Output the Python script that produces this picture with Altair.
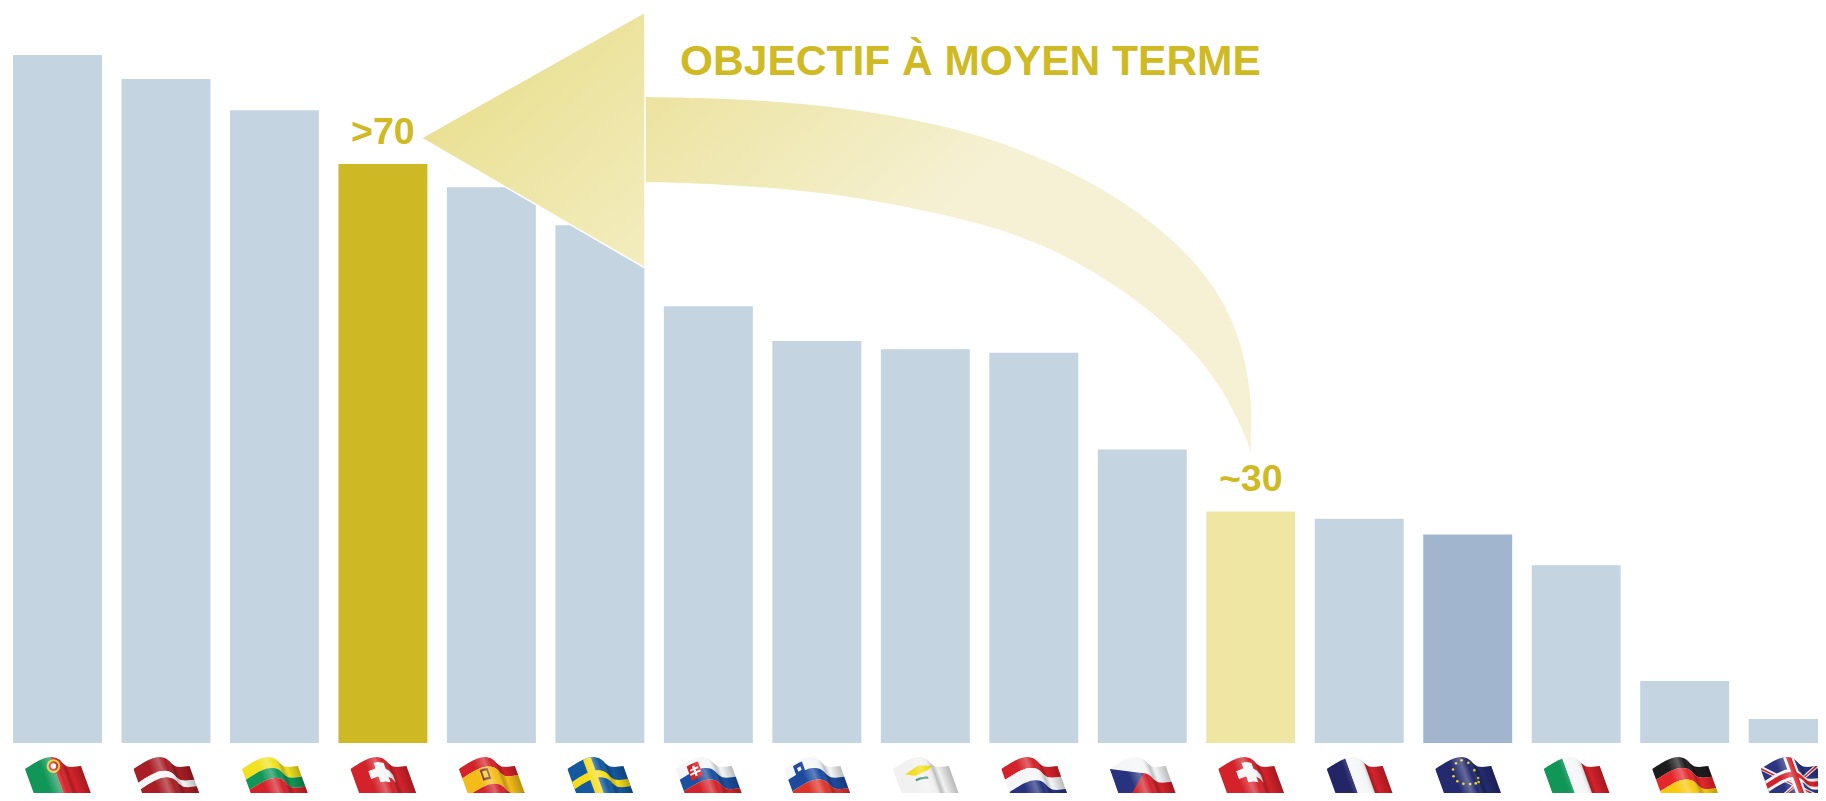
import base64
import numpy as np
import pandas as pd
import altair as alt

# ---------- values ----------
countries = ["Portugal", "Lettonie", "Lituanie", "Suisse (objectif)", "Espagne", "Suède", "Slovaquie",
             "Slovénie", "Chypre", "Pays-Bas", "Tchéquie", "Suisse", "France", "UE", "Italie",
             "Allemagne", "Royaume-Uni"]
values = [83.2, 80.3, 76.5, 70.0, 67.2, 62.6, 52.8, 48.6, 47.6, 47.2, 35.5, 28.0, 27.1, 25.2, 21.5, 7.5, 2.9]
groups = ["pays", "pays", "pays", "objectif", "pays", "pays", "pays", "pays", "pays", "pays", "pays",
          "actuel", "pays", "ue", "pays", "pays", "pays"]
flag_codes = ["pt", "lv", "lt", "ch", "es", "se", "sk", "si", "cy", "nl", "cz", "ch", "fr", "eu", "it", "de", "uk"]
group_names = ["pays", "objectif", "actuel", "ue"]
group_colors = ["#C5D4E1", "#CDB924", "#EFE6A4", "#A1B6CE"]

label_countries = ["Suisse (objectif)", "Suisse"]
label_values = [70.0, 28.0]
label_texts = [">70", "~30"]
headline = ["OBJECTIF À MOYEN TERME"]
headline_x = [680]
headline_y = [75]

# arrow outline, in the picture's own pixel coordinates
head_x = [421, 645]
head_top = [138, 12]
head_bottom = [138, 268]
shaft_x = [645, 720, 800, 880, 950, 1000, 1050, 1100, 1150, 1190, 1217, 1237, 1248, 1251]
shaft_top = [97, 98, 103, 113, 127, 142, 162, 187, 220, 256, 290, 330, 373, 405]
shaft_bottom = [182, 184, 190, 201, 216, 229, 248, 275, 310, 347, 381, 417, 443, 452]

# ---------- waving-flag icons ----------
CURVE_X = [0, 7, 14, 20, 26, 31, 35, 38, 42, 47, 56]
CURVE_Y = [12, 7.5, 3.5, 1, 0, .8, 3, 6.5, 9.5, 10, 9]


def warp(u, v):
    x = 56 * u
    return x + 13 * v, float(np.interp(x, CURVE_X, CURVE_Y)) + 36 * v


def poly(points, color):
    pts = " ".join("%.2f,%.2f" % warp(u, v) for u, v in points)
    return f'<polygon points="{pts}" fill="{color}"/>'


def rect(u0, u1, v0, v1, color):
    us = np.linspace(u0, u1, 26)
    pts = [(u, v0) for u in us] + [(u, v1) for u in us[::-1]]
    return poly(pts, color)


def dot(u, v, r, color):
    x, y = warp(u, v)
    return f'<circle cx="{x:.2f}" cy="{y:.2f}" r="{r}" fill="{color}"/>'


def hbands(colors, cuts=None):
    cuts = cuts or list(np.linspace(0, 1, len(colors) + 1))
    return "".join(rect(0, 1, cuts[i], cuts[i + 1], c) for i, c in enumerate(colors))


def vbands(colors):
    cuts = np.linspace(0, 1, len(colors) + 1)
    return "".join(rect(cuts[i], cuts[i + 1], 0, 1, c) for i, c in enumerate(colors))


RED, GREEN, NAVY = "#D4222A", "#109657", "#232566"
WHITE = "#F4F5F6"


def painter(code):
    if code == "pt":
        return (rect(0, .45, 0, 1, GREEN) + rect(.45, 1, 0, 1, RED) + dot(.45, .25, 6.8, "#E9D21F")
                + dot(.45, .25, 4.8, "#C8232A") + dot(.45, .25, 2.8, WHITE))
    if code == "lv":
        return hbands(["#A81E26", WHITE, "#A81E26"], [0, .38, .56, 1])
    if code == "lt":
        return hbands(["#F0E21F", GREEN, RED], [0, .3, .58, 1])
    if code == "ch":
        return (rect(0, 1, 0, 1, RED) + rect(.38, .56, .14, .68, WHITE) + rect(.25, .69, .30, .52, WHITE))
    if code == "es":
        return (hbands([RED, "#F4BC18", RED], [0, .26, .74, 1]) + rect(.3, .44, .3, .6, "#7A2A20")
                + rect(.33, .41, .36, .54, "#E9D21F"))
    if code == "se":
        return (rect(0, 1, 0, 1, "#14589F") + rect(.28, .42, 0, 1, "#F6DD1C") + rect(0, 1, .36, .56, "#F6DD1C"))
    if code == "sk":
        return (hbands([WHITE, "#1B4FA0", RED], [0, .3, .62, 1]) + rect(.17, .37, .1, .5, RED)
                + rect(.25, .29, .16, .44, WHITE) + rect(.2, .34, .22, .27, WHITE)
                + rect(.18, .36, .32, .37, WHITE))
    if code == "si":
        return (hbands([WHITE, "#1D4A9E", "#DE3329"], [0, .3, .62, 1]) + rect(.14, .3, .06, .36, "#1D4A9E")
                + rect(.19, .25, .16, .26, WHITE))
    if code == "cy":
        return (rect(0, 1, 0, 1, "#F1F1F1")
                + poly([(.15, .3), (.4, .22), (.68, .06), (.62, .22), (.55, .34), (.3, .46)], "#F0DD12")
                + rect(.28, .5, .54, .6, "#3F8F77"))
    if code == "nl":
        return hbands([RED, WHITE, "#27337F"], [0, .3, .64, 1])
    if code == "cz":
        return (hbands([WHITE, RED], [0, .44, 1])
                + poly([(0, 0), (.5, .44), (.06, 1), (0, 1)], "#27337F"))
    if code == "fr":
        return vbands([NAVY, WHITE, RED])
    if code == "it":
        return vbands([GREEN, WHITE, RED])
    if code == "de":
        return hbands(["#1E1C1C", "#E5262B", "#F8C80F"], [0, .3, .62, 1])
    if code == "eu":
        out = rect(0, 1, 0, 1, "#232A6E")
        cx, cy = .45, .42
        for k in range(12):
            a = k * np.pi / 6
            out += dot(cx + .22 * np.cos(a), cy + .33 * np.sin(a), 1.3, "#F2D81E")
        return out
    # uk
    blue = "#2A3480"
    out = rect(0, 1, 0, 1, blue)
    for (a, b, c, d), col, w in [((0, 0, 1, 1), WHITE, .055), ((1, 0, 0, 1), WHITE, .055),
                                 ((0, 0, 1, 1), RED, .02), ((1, 0, 0, 1), RED, .02)]:
        out += poly([(a - w, b), (a + w, b), (c + w, d), (c - w, d)], col)
    return out + rect(.4, .6, 0, 1, WHITE) + rect(0, 1, .33, .63, WHITE) + rect(.45, .55, 0, 1, RED) + rect(0, 1, .41, .55, RED)


def flag_uri(code):
    svg = ('<svg xmlns="http://www.w3.org/2000/svg" width="70" height="46" viewBox="0 0 70 46">'
           '<defs><linearGradient id="s" gradientUnits="userSpaceOnUse" x1="0" x2="56" y1="0" y2="0" '
           'gradientTransform="matrix(1 0 .361 1 -4.3 0)">'
           '<stop offset=".3" stop-color="#fff" stop-opacity="0"/>'
           '<stop offset=".5" stop-color="#fff" stop-opacity=".3"/>'
           '<stop offset=".62" stop-color="#fff" stop-opacity="0"/>'
           '<stop offset=".72" stop-color="#000" stop-opacity=".22"/>'
           '<stop offset=".8" stop-color="#000" stop-opacity="0"/>'
           '<stop offset="1" stop-color="#000" stop-opacity=".22"/>'
           '</linearGradient></defs>'
           + painter(code) + rect(0, 1, 0, 1, "url(#s)") + '</svg>')
    return "data:image/svg+xml;base64," + base64.b64encode(svg.encode()).decode()


# ---------- scales: the chart stays inside the page's margins, marks keep the picture's page positions ----------
STEP = 108.48
x_band = alt.Scale(domain=countries, range=[-4.76, -4.76 + STEP * len(countries)], paddingInner=.18, paddingOuter=.09)
y_val = alt.Scale(domain=[-6.046, 88.87])
x_px = alt.Scale(domain=[8, 1818])
y_px = alt.Scale(domain=[793, 8])

bars_df = pd.DataFrame({"pays": countries, "valeur": values, "groupe": groups})
flags_df = pd.DataFrame({"pays": countries, "flag": [flag_uri(c) for c in flag_codes]})
labels_df = pd.DataFrame({"pays": label_countries, "valeur": label_values, "texte": label_texts})
head_df = pd.DataFrame({"x": head_x, "haut": head_top, "bas": head_bottom})
shaft_df = pd.DataFrame({"x": shaft_x, "haut": shaft_top, "bas": shaft_bottom})
headline_df = pd.DataFrame({"x": headline_x, "y": headline_y, "t": headline})

bars = alt.Chart(bars_df).mark_bar(clip=True, cornerRadius=0).encode(
    x=alt.X("pays:N", scale=x_band, axis=None),
    y=alt.Y("valeur:Q", scale=y_val, axis=None),
    y2=alt.Y2(datum=0),
    color=alt.Color("groupe:N", scale=alt.Scale(domain=group_names, range=group_colors), legend=None),
)

flags = alt.Chart(flags_df).mark_image(width=70, height=46, clip=True, xOffset=2.5).encode(
    x=alt.X("pays:N", scale=x_band, axis=None),
    y=alt.Y(datum=-4.47, scale=y_val, axis=None),
    url=alt.Url("flag:N"),
)

shaft = alt.Chart(shaft_df).mark_area(
    interpolate="basis",
    color=alt.Gradient(gradient="linear", x1=0, y1=0, x2=.5, y2=.33,
                       stops=[alt.GradientStop(color="#ECE39F", offset=0),
                              alt.GradientStop(color="#F6F1D5", offset=1)]),
).encode(
    x=alt.X("x:Q", scale=x_px, axis=None),
    y=alt.Y("haut:Q", scale=y_px, axis=None),
    y2="bas:Q",
)

head = alt.Chart(head_df).mark_area(
    stroke="white", strokeWidth=1.5,
    color=alt.Gradient(gradient="linear", x1=.3, y1=.1, x2=1, y2=1,
                       stops=[alt.GradientStop(color="#E9DF8F", offset=0),
                              alt.GradientStop(color="#F3EDC0", offset=1)]),
).encode(
    x=alt.X("x:Q", scale=x_px, axis=None),
    y=alt.Y("haut:Q", scale=y_px, axis=None),
    y2="bas:Q",
)

labels = alt.Chart(labels_df).mark_text(
    font="Liberation Sans", fontWeight="bold", fontSize=37.5, color="#CFBA24", baseline="alphabetic", dy=-20,
).encode(
    x=alt.X("pays:N", scale=x_band, axis=None),
    y=alt.Y("valeur:Q", scale=y_val, axis=None),
    text="texte:N",
)

title = alt.Chart(headline_df).mark_text(
    font="Liberation Sans", fontWeight="bold", fontSize=42.5, color="#CFBA24", baseline="alphabetic", align="left",
).encode(
    x=alt.X("x:Q", scale=x_px, axis=None),
    y=alt.Y("y:Q", scale=y_px, axis=None),
    text="t:N",
)

chart = (
    alt.layer(bars, flags, shaft, head, labels, title)
    .resolve_scale(x="independent", y="independent")
    .properties(width=1810, height=785, padding=0, autosize=alt.AutoSizeParams(type="none"), background="white")
    .configure_view(stroke=None)
)

chart.save("out.html", embed_options={"renderer": "svg", "actions": False})
